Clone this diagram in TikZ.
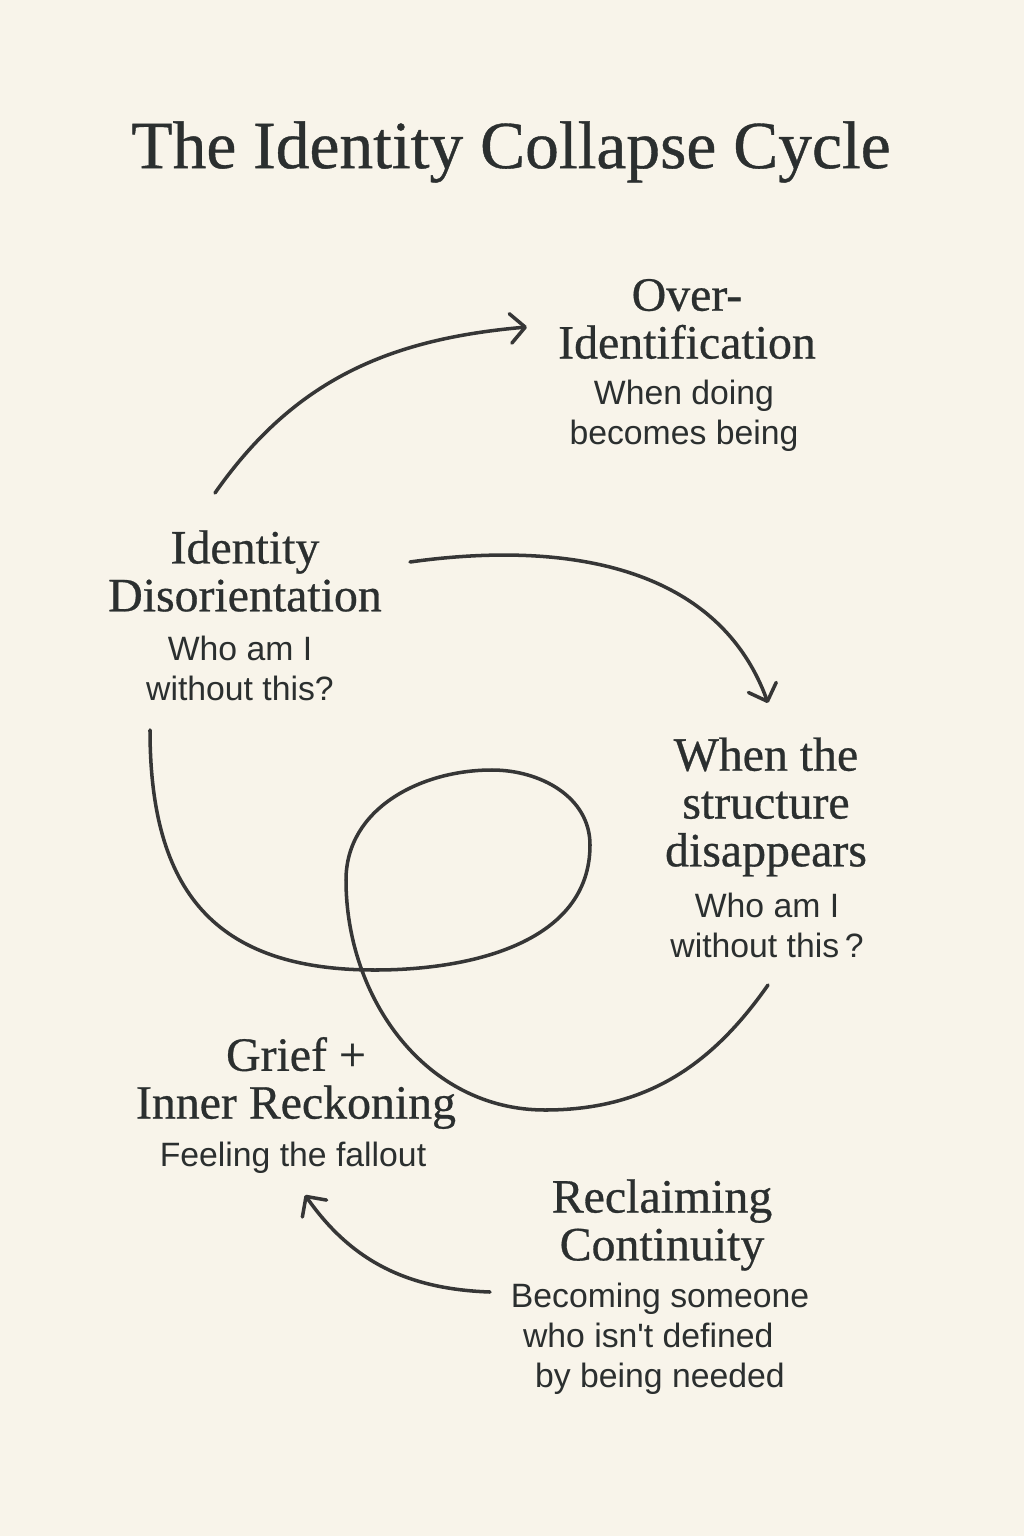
\documentclass[tikz,border=0pt]{standalone}
\usepackage{fontspec}
\setmainfont{Liberation Serif}
\setsansfont{Liberation Sans}
\newfontfamily\headfont{Liberation Serif}[FakeBold=0.6]
\usetikzlibrary{arrows.meta}
\definecolor{paper}{HTML}{F8F4EA}
\definecolor{ink}{HTML}{2B2F2F}
\definecolor{pen}{HTML}{363636}
\tikzset{
  stage/.style={align=center, text=ink, inner sep=0pt, font=\headfont\fontsize{34}{34}\selectfont},
  note/.style={align=center, text=ink, inner sep=0pt, font=\sffamily\fontsize{24}{28.5}\selectfont},
  loopline/.style={draw=pen, line width=2.5pt, line cap=round},
  flow/.style={loopline, -{Straight Barb[length=10.5pt, width=21pt, round]}}
}
\begin{document}
\begin{tikzpicture}[x=0.025cm, y=0.025cm]
  % Background
  \fill[paper] (0,0) rectangle (1024,-1536);
  % Title
  \node[text=ink, font=\headfont\fontsize{48}{48}\selectfont] (title) at (511,-152) {The Identity Collapse Cycle};
  % Stages
  \node[stage] (over) at (687,-319) {Over-\\Identification};
  \node[note] (overtxt) at (684,-416) {When doing\\becomes being};
  \node[stage] (dis) at (245,-571) {Identity\\Disorientation};
  \node[note] (distxt) at (240,-668) {Who am I\\without this?};
  \node[stage] (struct) at (766,-807) {When the\\structure\\disappears};
  \node[note] (structtxt) at (767,-925) {Who am I\\without this\,?};
  \node[stage] (grief) at (296,-1083) {Grief +\\Inner Reckoning};
  \node[note] (grieftxt) at (293,-1158) {Feeling the fallout};
  \node[stage] (reclaim) at (662,-1225) {Reclaiming\\Continuity};
  \node[note] (reclaimtxt) at (660,-1339) {Becoming someone\\who isn\textquotesingle t defined\hbox to 0.7em{}\\by being needed};
  % Arrows
  \coordinate (a1s) at (215,-493);
  \coordinate (a1e) at (527,-327);
  \draw[flow] (a1s) to[out=55, in=185] (a1e);
  \coordinate (a2s) at (410,-562);
  \coordinate (a2e) at (768,-703);
  \draw[flow] (a2s) to[out=8, in=110] (a2e);
  \coordinate (a3s) at (490,-1292);
  \coordinate (a3e) at (305,-1195);
  \draw[flow] (a3s) to[out=178, in=-55] (a3e);
  % Spiral
  \coordinate (sps) at (150,-730);
  \coordinate (spe) at (768,-985);
  \draw[loopline] (sps) to[out=270, in=180, looseness=1.25] (375,-970)
    to[out=0, in=270] (590,-845) to[out=90, in=0] (492,-770)
    to[out=180, in=90] (346,-880) to[out=270, in=180] (545,-1110)
    to[out=0, in=235] (spe);
\end{tikzpicture}
\end{document}
